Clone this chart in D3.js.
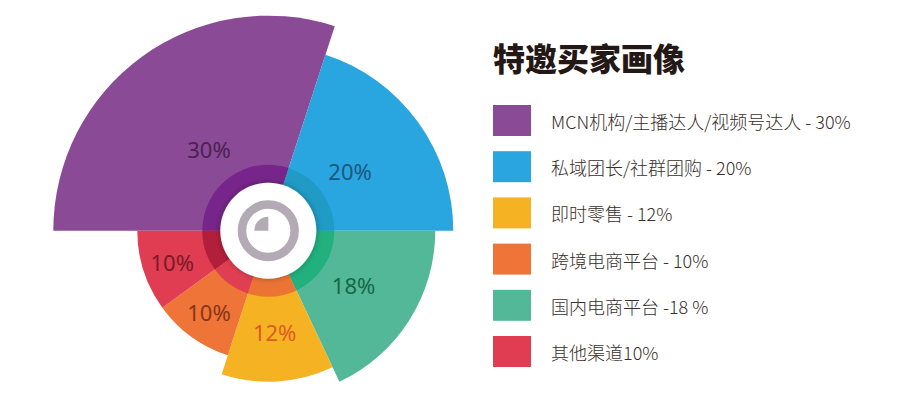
<!DOCTYPE html>
<html>
<head>
<meta charset="utf-8">
<script src="https://cdn.jsdelivr.net/npm/d3@7"></script>
<style>
  html, body { margin: 0; padding: 0; background: #fff; }
  svg { display: block; }
</style>
</head>
<body>
<div id="chart"></div>
<script>
// slices in drawing order (clockwise from 9 o'clock)
const categories = ["MCN机构/主播达人/视频号达人", "私域团长/社群团购", "国内电商平台", "即时零售", "跨境电商平台", "其他渠道"];
const values = [30, 20, 18, 12, 10, 10];
const valueLabels = ["30%", "20%", "18%", "12%", "10%", "10%"];
const colors = ["#8a4a96", "#29a5df", "#52b897", "#f5b324", "#ee7437", "#e03c52"];
const ringColors = ["#77258a", "#1f9bc6", "#22b07f", "#eb7434", "#e03f53", "#b21f3a"];
const labelColors = ["#4a2155", "#1a5880", "#166847", "#dc5a26", "#873619", "#7a1a27"];

// legend (its own order and wording)
const legendOrder = [0, 1, 3, 4, 2, 5];
const legendTexts = [
  "MCN机构/主播达人/视频号达人 - 30%",
  "私域团长/社群团购 - 20%",
  "即时零售 - 12%",
  "跨境电商平台 - 10%",
  "国内电商平台 -18 %",
  "其他渠道10%"
];
const title = "特邀买家画像";

const width = 906, height = 400;
const cx = 268.3, cy = 230.7;

const svg = d3.select("#chart").append("svg")
  .attr("width", width)
  .attr("height", height);

const defs = svg.append("defs");
const shadow = defs.append("filter").attr("id", "shadow")
  .attr("x", "-50%").attr("y", "-50%").attr("width", "200%").attr("height", "200%");
shadow.append("feDropShadow")
  .attr("dx", 0).attr("dy", 0)
  .attr("stdDeviation", 3)
  .attr("flood-color", "#000")
  .attr("flood-opacity", 0.3);

const rScale = d3.scaleLinear()
  .domain([10, 12, 18, 20, 30])
  .range([131, 151, 167, 185, 215]);

const pie = d3.pie()
  .sort(null)
  .value(d => d)
  .startAngle(-Math.PI / 2)
  .endAngle(Math.PI * 1.5);

const arcs = pie(values);

const g = svg.append("g").attr("transform", `translate(${cx},${cy})`);

const arc = d3.arc().innerRadius(0).outerRadius(d => rScale(d.data));

g.selectAll("path.slice")
  .data(arcs)
  .enter().append("path")
  .attr("class", "slice")
  .attr("d", arc)
  .attr("fill", (d, i) => colors[i]);

const ringArc = d3.arc().innerRadius(45).outerRadius(66);
g.selectAll("path.ring")
  .data(arcs)
  .enter().append("path")
  .attr("class", "ring")
  .attr("d", ringArc)
  .attr("fill", (d, i) => ringColors[i]);

// value labels
const labelArc = d3.arc().innerRadius(101).outerRadius(101);
g.selectAll("text.val")
  .data(arcs)
  .enter().append("text")
  .attr("class", "val")
  .attr("transform", d => `translate(${labelArc.centroid(d)})`)
  .attr("text-anchor", "middle")
  .attr("dominant-baseline", "central")
  .attr("font-family", "'Noto Sans', sans-serif")
  .attr("font-weight", 400)
  .attr("font-size", 22)
  .attr("fill", (d, i) => labelColors[i])
  .text((d, i) => valueLabels[i]);

// centre badge
g.append("circle").attr("r", 48).attr("fill", "#fff").attr("filter", "url(#shadow)");
g.append("circle").attr("r", 26.3)
  .attr("fill", "none")
  .attr("stroke", "#b3aab5")
  .attr("stroke-width", 8.5);
g.append("path")
  .attr("d", d3.arc().innerRadius(0).outerRadius(14).startAngle(-Math.PI / 2).endAngle(0)())
  .attr("fill", "#b3aab5");

// title
svg.append("text")
  .attr("x", 493)
  .attr("y", 57)
  .attr("dominant-baseline", "central")
  .attr("font-family", "'Noto Sans CJK SC', sans-serif")
  .attr("font-weight", 900)
  .attr("font-size", 32)
  .attr("fill", "#231815")
  .text(title);

// legend
const legend = svg.append("g").attr("transform", "translate(493,105)");
const rows = legend.selectAll("g.row")
  .data(legendOrder)
  .enter().append("g")
  .attr("class", "row")
  .attr("transform", (d, i) => `translate(0,${i * 46.2})`);

rows.append("rect")
  .attr("width", 38)
  .attr("height", 31)
  .attr("fill", d => colors[d]);

rows.append("text")
  .attr("x", 58)
  .attr("y", 16)
  .attr("dominant-baseline", "central")
  .attr("font-family", "'Noto Sans CJK SC', sans-serif")
  .attr("font-weight", 300)
  .attr("font-size", 18)
  .attr("fill", "#3a2e2a")
  .attr("xml:space", "preserve")
  .text((d, i) => legendTexts[i]);
</script>
</body>
</html>
